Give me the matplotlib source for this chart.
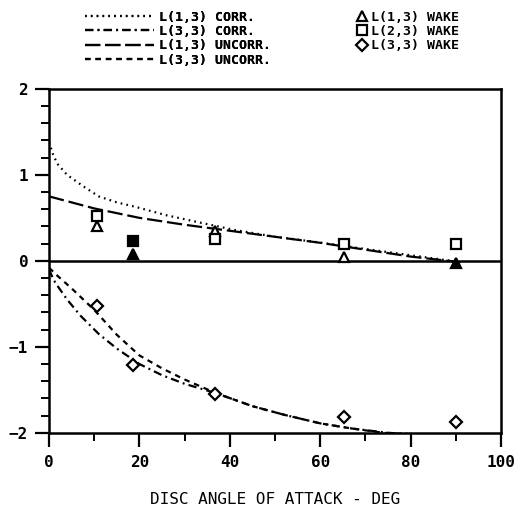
import matplotlib
matplotlib.use("Agg")
import matplotlib.pyplot as plt
from matplotlib.lines import Line2D
from matplotlib.ticker import MultipleLocator

plt.rcParams["font.family"] = ["DejaVu Sans Mono"]
plt.rcParams["font.weight"] = "bold"
plt.rcParams["lines.scale_dashes"] = False

# theory curves
x_13_corr = [0, 1, 2, 4, 7.5, 11, 15, 19, 26, 33, 41, 50, 59, 67, 78, 89, 91]
y_13_corr = [1.38, 1.22, 1.12, 1.0, 0.87, 0.75, 0.68, 0.63, 0.53, 0.45, 0.36, 0.28, 0.22, 0.16, 0.08, 0.0, -0.02]

x_33_corr = [0, 1, 2, 4, 7, 11, 15, 20, 25, 30, 37, 45, 52, 60, 67, 75, 82, 90]
y_33_corr = [-0.1, -0.22, -0.3, -0.45, -0.64, -0.85, -1.02, -1.2, -1.33, -1.43, -1.54, -1.69, -1.79, -1.89, -1.95, -2.0, -2.02, -2.03]

x_13_unc = [0, 10, 20, 30, 40, 50, 60, 70, 80, 90]
y_13_unc = [0.75, 0.61, 0.5, 0.42, 0.35, 0.28, 0.21, 0.13, 0.05, -0.01]

x_33_unc = [0, 2, 5, 10, 15, 20, 25, 30, 37, 45, 52, 60, 67, 74, 80, 90]
y_33_unc = [-0.08, -0.18, -0.32, -0.57, -0.86, -1.1, -1.25, -1.38, -1.54, -1.69, -1.79, -1.89, -1.95, -2.0, -2.02, -2.03]

# wake measurements
wake_x = [10.6, 18.6, 36.7, 65.2, 90.0]
wake_13 = [0.41, 0.08, 0.35, 0.05, -0.02]
wake_23 = [0.52, 0.23, 0.25, 0.2, 0.2]
wake_33 = [-0.52, -1.21, -1.55, -1.82, -1.88]
filled_13 = [False, True, False, False, True]
filled_23 = [False, True, False, False, False]

fig = plt.figure(figsize=(5.16, 5.11), dpi=100)
ax = fig.add_axes([0.095, 0.153, 0.876, 0.673])

lw = 1.6
l1, = ax.plot(x_13_corr, y_13_corr, color="black", lw=lw, dashes=(1.2, 3))
l2, = ax.plot(x_33_corr, y_33_corr, color="black", lw=lw, dashes=(6, 3, 1.4, 3))
l3, = ax.plot(x_13_unc, y_13_unc, color="black", lw=lw, dashes=(11, 3.5))
l4, = ax.plot(x_33_unc, y_33_unc, color="black", lw=lw, dashes=(4, 3.5))

for xi, a, b, c, fa, fb in zip(wake_x, wake_13, wake_23, wake_33, filled_13, filled_23):
    ax.plot(xi, a, marker="^", ms=7, mfc="black" if fa else "white", mec="black",
            mew=1.6, ls="none", zorder=4)
    ax.plot(xi, b, marker="s", ms=6.5, mfc="black" if fb else "white", mec="black",
            mew=1.6, ls="none", zorder=4)
    ax.plot(xi, c, marker="D", ms=6, mfc="white", mec="black", mew=1.6, ls="none", zorder=4)

ax.axhline(0, color="black", lw=1.8)

ax.set_xlim(0, 100)
ax.set_ylim(-2, 2)
ax.xaxis.set_major_locator(MultipleLocator(20))
ax.xaxis.set_minor_locator(MultipleLocator(10))
ax.yaxis.set_major_locator(MultipleLocator(1))
ax.yaxis.set_minor_locator(MultipleLocator(0.2))
ax.tick_params(which="major", length=10, width=1.6, labelsize=11.5, direction="out")
ax.tick_params(axis="x", which="major", pad=6)
ax.tick_params(axis="y", which="major", pad=5)
ax.tick_params(which="minor", length=6, width=1.4, direction="out")
for s in ax.spines.values():
    s.set_linewidth(1.8)
ax.set_xlabel("DISC ANGLE OF ATTACK - DEG", fontsize=11.5, labelpad=16)

leg1 = fig.legend([l1, l2, l3, l4],
                  ["L(1,3) CORR.", "L(3,3) CORR.", "L(1,3) UNCORR.", "L(3,3) UNCORR."],
                  loc="upper left", bbox_to_anchor=(0.145, 1.0), frameon=False,
                  fontsize=9.5, handlelength=5.2, handletextpad=0.35,
                  labelspacing=0.1, borderpad=0.3)
fig.add_artist(leg1)
mk = [Line2D([], [], marker=m, ms=s, mfc="white", mec="black", mew=1.6, ls="none")
      for m, s in [("^", 7), ("s", 6.5), ("D", 6)]]
fig.legend(mk, ["L(1,3) WAKE", "L(2,3) WAKE", "L(3,3) WAKE"],
           loc="upper left", bbox_to_anchor=(0.67, 1.0), frameon=False,
           fontsize=9.5, handlelength=0.8, handletextpad=0.35,
           labelspacing=0.1, borderpad=0.3)

fig.savefig("out.png", dpi=100)
